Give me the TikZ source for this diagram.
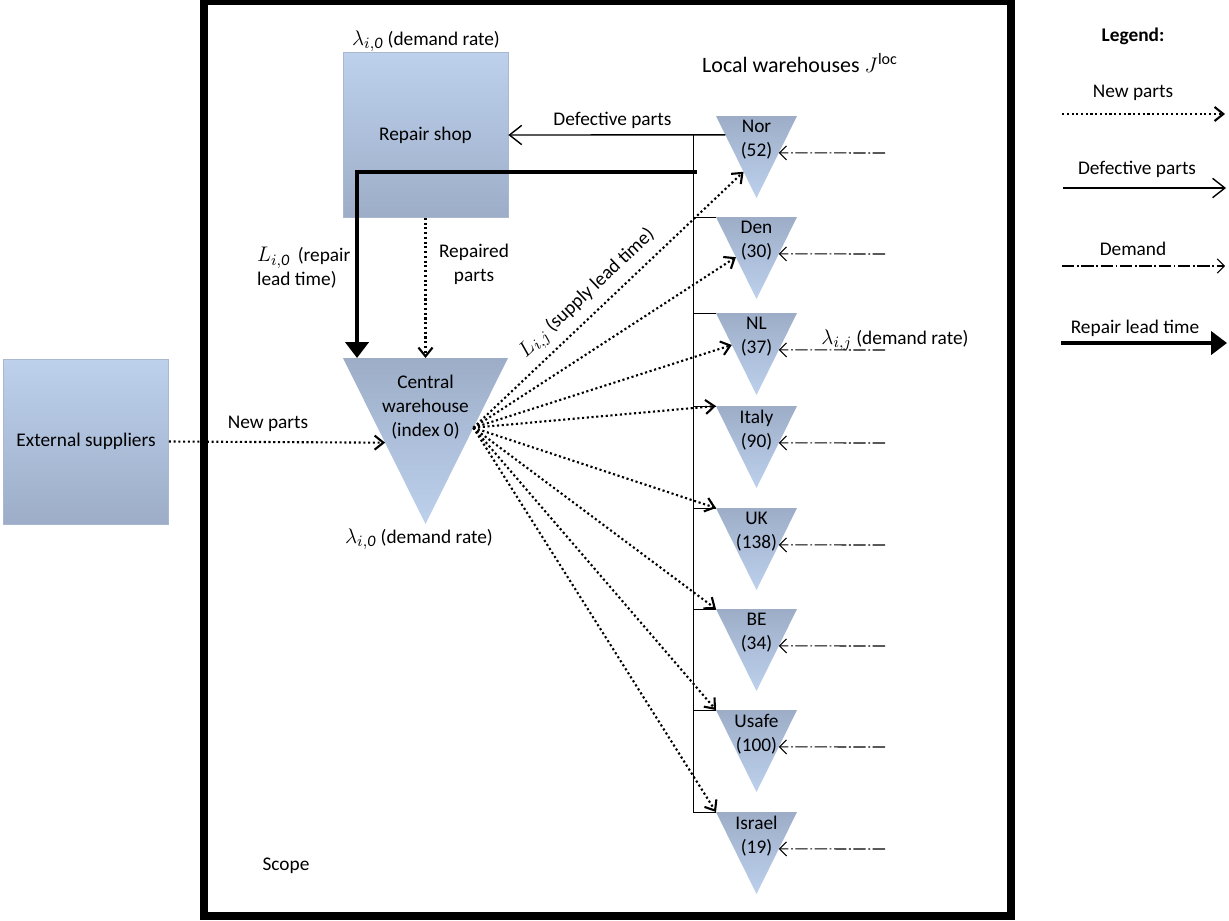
\documentclass[tikz,border=0pt]{standalone}
\usepackage{fontspec}
\setmainfont{Carlito}
\usetikzlibrary{arrows.meta,calc,positioning}

\definecolor{boxtop}{HTML}{BDD1EC}
\definecolor{boxbot}{HTML}{9DADC8}
\definecolor{boxline}{HTML}{A9B8CE}

\newcommand{\symb}[1]{{\fontsize{13}{13}\selectfont$#1$}}

\tikzset{
  box/.style={draw=boxline, top color=boxtop, bottom color=boxbot,
    minimum width=3.3cm, minimum height=3.3cm, inner sep=0},
  depot/.style={top color=boxbot, bottom color=boxtop},
  lab/.style={align=center, inner sep=1pt},
  newpart/.style={line width=1.2pt, dash pattern=on 1.2pt off 1.5pt,
    -{Straight Barb[length=5pt,width=8pt]}},
  defect/.style={line width=0.8pt, -{Straight Barb[length=7pt,width=11pt]}},
  demand/.style={line width=0.6pt, dash pattern=on 7pt off 1.5pt on 1pt off 1.5pt,
    -{Straight Barb[length=4pt,width=8pt]}},
  leadtime/.style={line width=2.8pt, -{Triangle[length=9pt,width=13pt]}},
  scopeframe/.style={line width=4.5pt},
}

\begin{document}
\begin{tikzpicture}[x=0.02cm,y=-0.02cm,font=\fontsize{11}{13.7}\selectfont]
\useasboundingbox (0,0) rectangle (1229,920);

% repair shop and suppliers
\node[box] (rs) at (425.5,135) {Repair shop};
\node[lab] (rs-rate) at (426,41) {\symb{\lambda_{i,\mathit{0}}} (demand rate)};
\node[box] (ext) at (86,441.5) {External suppliers};

% central warehouse
\coordinate (cw-l) at (343,358);
\coordinate (cw-r) at (508,358);
\coordinate (cw-b) at (425.5,524);
\shade[depot] (cw-l) -- (cw-r) -- (cw-b) -- cycle;
\node[lab] (cw) at (425.5,407) {Central\\warehouse\\(index 0)};
\node[lab] (cw-rate) at (419,539) {\symb{\lambda_{i,\mathit{0}}} (demand rate)};
\coordinate (cw-o) at ($(cw-r)!0.42!(cw-b)$);

% local warehouses
\node[font=\fontsize{12.5}{15}\selectfont] (loc) at (800,63)
  {Local warehouses \symb{J^{\mathrm{loc}}}};
\foreach \n/\t/\c/\y in {nor/Nor/52/116, den/Den/30/217, nl/NL/37/313, ita/Italy/90/406,
    uk/UK/138/508, be/BE/34/609, usa/Usafe/100/710, isr/Israel/19/812}{
  \coordinate (\n-l) at (716,\y);
  \coordinate (\n-r) at (797,\y);
  \coordinate (\n-b) at (756.5,\y+82);
  \shade[depot] (\n-l) -- (\n-r) -- (\n-b) -- cycle;
  \node[lab] (\n) at (756.5,\y+24) {\t\\(\c)};
  \coordinate (\n-dem) at (885,\y+37);
  \draw[demand] (\n-dem) -- ($(\n-r)!0.45!(\n-b)$);
}
\node[lab] (dem-rate) at (895,340) {\symb{\lambda_{i,j}} (demand rate)};

% defective parts back to the repair shop
\coordinate (nor-d) at ($(nor-l)!0.23!(nor-b)$);
\coordinate (bus-top) at (693,135);
\coordinate (bus-bot) at (693,812);
\draw[defect] (nor-d) -- (rs.east) node[lab, pos=0.52, above=2pt] {Defective parts};
\draw (bus-top) -- (bus-bot);
\foreach \n in {den,nl,ita,uk,be,usa,isr}
  \draw (\n-l) -- (bus-top |- \n-l);

% repair lead time
\coordinate (lt) at (697,172);
\draw[leadtime] (lt) -| ($(cw-l)!0.085!(cw-r)$);
\node[lab, align=left, anchor=west] (lt-lab) at (255,268)
  {\symb{L_{i,\mathit{0}}}\, (repair\\lead time)};

% repaired and new parts
\draw[newpart] (rs.south) -- ($(cw-l)!0.5!(cw-r)$);
\node[lab] (rep-lab) at (474,264) {Repaired\\parts};
\draw[newpart] (ext.east) -- ($(cw-l)!0.51!(cw-b)$);
\node[lab] (np-lab) at (268,424) {New parts};

% supply to local warehouses
\draw[newpart] (cw-o) -- ($(nor-l)!0.68!(nor-b)$)
  node[sloped, above=3pt, pos=0.47, inner sep=1pt] {\symb{L_{i,j}} (supply lead time)};
\foreach \n/\f in {den/0.49, nl/0.39, ita/0, uk/0, be/0, usa/0, isr/0}
  \draw[newpart] (cw-o) -- ($(\n-l)!\f!(\n-b)$);

% scope
\draw[scopeframe] (204,1.5) rectangle (1011,916);
\node (scope) at (286,866) {Scope};

% legend
\node (leg) at (1133,36) {\bfseries Legend:};
\coordinate (lg1a) at (1062,114);  \coordinate (lg1b) at (1225,114);
\coordinate (lg2a) at (1063,188);  \coordinate (lg2b) at (1226,188);
\coordinate (lg3a) at (1062,266);  \coordinate (lg3b) at (1225,266);
\coordinate (lg4a) at (1061,343);  \coordinate (lg4b) at (1227,343);
\draw[newpart] (lg1a) -- (lg1b);
\draw[defect] (lg2a) -- (lg2b);
\draw[demand] (lg3a) -- (lg3b);
\draw[leadtime] (lg4a) -- (lg4b);
\node (lg1) at (1133,93) {New parts};
\node (lg2) at (1137,169) {Defective parts};
\node (lg3) at (1133,249) {Demand};
\node (lg4) at (1135,328) {Repair lead time};
\end{tikzpicture}
\end{document}
